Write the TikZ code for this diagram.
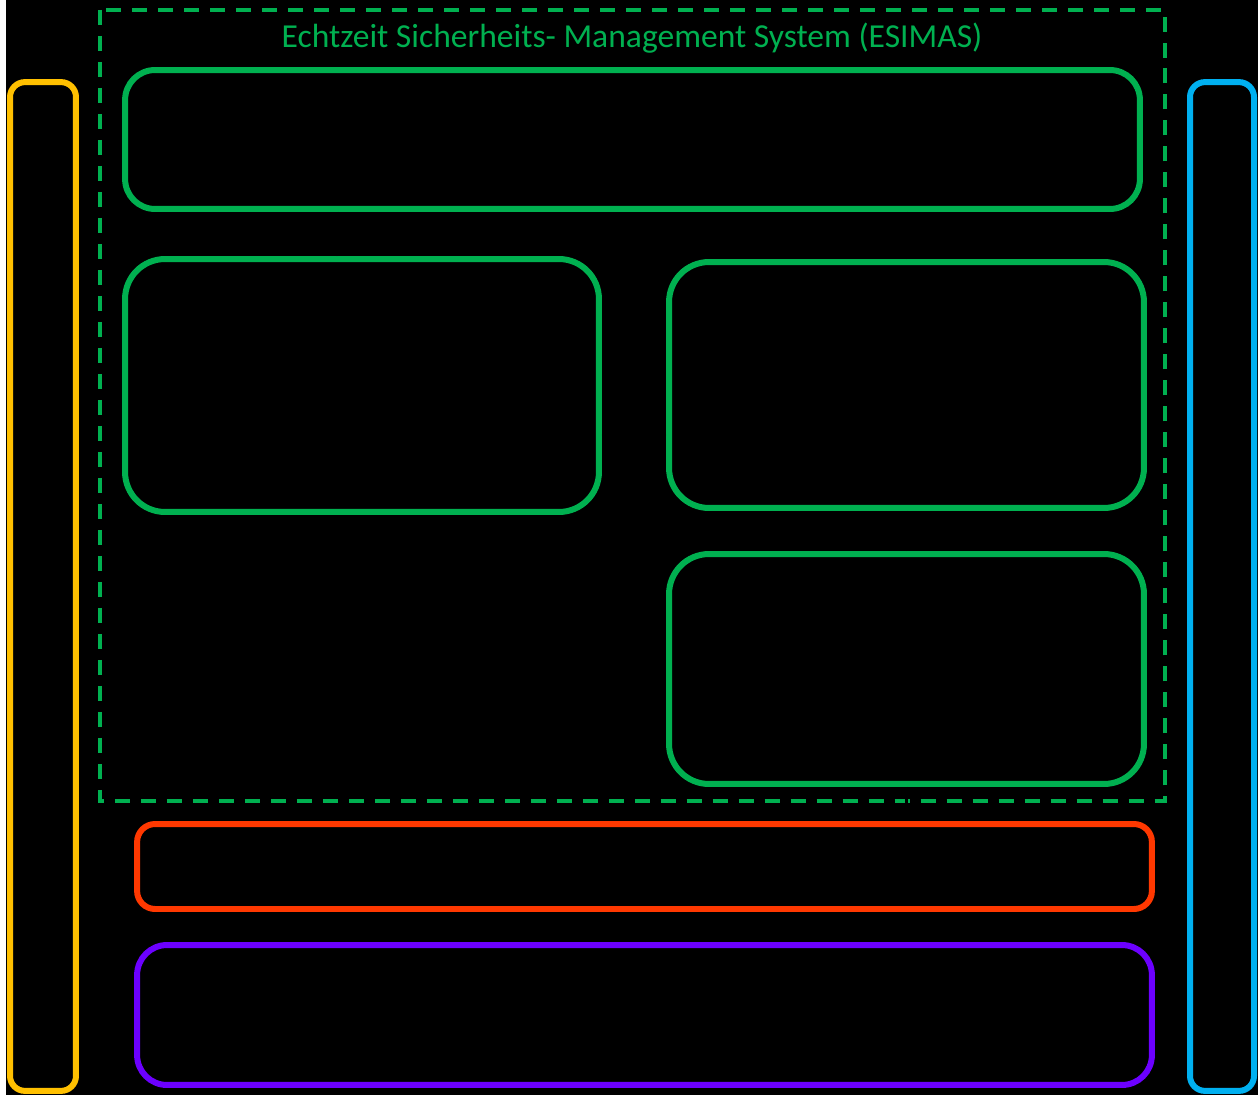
\documentclass[tikz,border=0pt]{standalone}
\usepackage{fontspec}
\setmainfont{Carlito}
\usepackage{tikz}
\usetikzlibrary{arrows.meta,positioning,calc}
\definecolor{esi-green}{RGB}{0,176,80}
\definecolor{esi-red}{RGB}{255,56,0}
\definecolor{esi-purple}{RGB}{108,0,255}
\definecolor{esi-yellow}{RGB}{255,192,0}
\definecolor{esi-blue}{RGB}{0,176,240}

\begin{document}
\begin{tikzpicture}[x=0.02cm, y=-0.02cm,
  blockbox/.style={draw, line width=0.12cm, inner sep=0pt},
  arrowline/.style={draw=black, line width=0.06cm, -{Stealth[length=0.2cm,width=0.2cm]}}]
  % background
  \fill[white] (0,0) rectangle (1258,1095);
  \fill[black] (6,0) rectangle (1258,1095);
  \useasboundingbox (0,0) rectangle (1258,1095);

  % ESIMAS frame
  \draw[esi-green, line width=0.08cm, dash pattern=on 0.3cm off 0.22cm] (100,10) rectangle (1165,801);
  \node[font=\fontsize{19.1}{22}\selectfont, text=esi-green] (title) at (632,38) {Echtzeit Sicherheits- Management System (ESIMAS)};

  % green blocks
  \node[blockbox, esi-green, rounded corners=0.6cm, minimum width=20.3cm, minimum height=2.78cm] (top) at (632.5,139.5) {};
  \node[blockbox, esi-green, rounded corners=0.8cm, minimum width=9.48cm, minimum height=5.06cm] (lm) at (362,385.5) {};
  \node[blockbox, esi-green, rounded corners=0.8cm, minimum width=9.5cm, minimum height=4.92cm] (rm) at (906.5,385) {};
  \node[blockbox, esi-green, rounded corners=0.8cm, minimum width=9.5cm, minimum height=4.6cm] (lr) at (906.5,669) {};

  % lower layers
  \node[blockbox, esi-red, rounded corners=0.36cm, minimum width=20.3cm, minimum height=1.7cm] (red) at (644.5,866.5) {};
  \node[blockbox, esi-purple, rounded corners=0.6cm, minimum width=20.3cm, minimum height=2.8cm] (purple) at (644.5,1015) {};

  % side columns
  \node[blockbox, esi-yellow, rounded corners=0.3cm, minimum width=1.32cm, minimum height=20.18cm] (left) at (43,586.5) {};
  \node[blockbox, esi-blue, rounded corners=0.3cm, minimum width=1.28cm, minimum height=20.18cm] (right) at (1222,586.5) {};

  % connections
  \coordinate (c1) at (337,0);
  \coordinate (c2) at (0,435);
  \coordinate (c3) at (645,0);
  \draw[arrowline] (top.south -| c1) -- (lm.north -| c1);
  \draw[arrowline] (top.south -| rm.north) -- (rm.north);
  \draw[arrowline, {Stealth[length=0.2cm,width=0.2cm]}-{Stealth[length=0.2cm,width=0.2cm]}] (lm.east |- c2) -- (rm.west |- c2);
  \draw[arrowline] (rm.south) -- (lr.north);
  \draw[arrowline] (lr.south) -- (red.north -| lr.south);
  \draw[arrowline] (red.south -| c3) -- (purple.north -| c3);
\end{tikzpicture}
\end{document}
